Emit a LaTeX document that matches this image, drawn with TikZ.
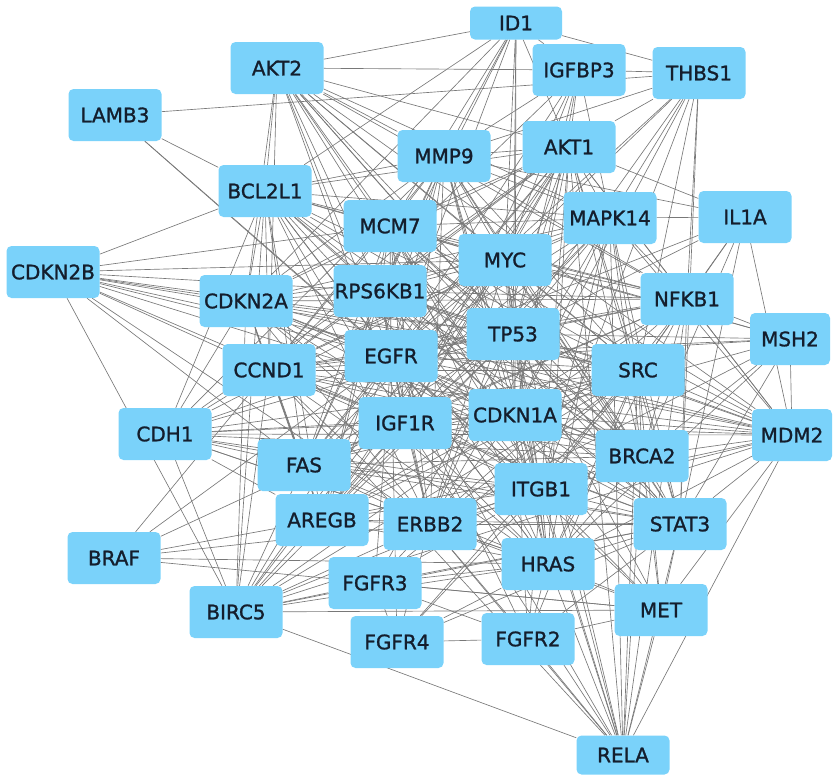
\documentclass[tikz,border=0pt]{standalone}
\usepackage{fontspec}
\newfontfamily\labfont[FakeBold=1.2]{DejaVu Sans}
\usetikzlibrary{backgrounds}
\definecolor{nodeblue}{RGB}{122,210,250}
\definecolor{edgegray}{RGB}{120,120,120}
\definecolor{labtext}{RGB}{20,30,45}
\begin{document}
\begin{tikzpicture}[x=1pt,y=-1pt,
  gene/.style={fill=nodeblue, rounded corners=5pt, minimum width=93pt, minimum height=52pt,
    inner sep=0pt, font=\labfont\fontsize{20}{20}\selectfont, text=labtext},
  link/.style={draw=edgegray, line width=0.65pt}]
\useasboundingbox (0,0) rectangle (839,782);
% nodes
\node[gene, minimum width=92pt, minimum height=33pt] (ID1) at (516,23) {ID1};
\node[gene] (IGFBP3) at (579,70) {IGFBP3};
\node[gene] (THBS1) at (699,73) {THBS1};
\node[gene] (AKT2) at (277,68) {AKT2};
\node[gene] (LAMB3) at (115,115) {LAMB3};
\node[gene] (AKT1) at (569,147) {AKT1};
\node[gene] (MMP9) at (444,156) {MMP9};
\node[gene] (BCL2L1) at (265,191) {BCL2L1};
\node[gene] (MCM7) at (390,226) {MCM7};
\node[gene] (MAPK14) at (610,218) {MAPK14};
\node[gene] (IL1A) at (745,217) {IL1A};
\node[gene] (MYC) at (505,260) {MYC};
\node[gene] (CDKN2B) at (53,272) {CDKN2B};
\node[gene] (RPS6KB1) at (380,291) {RPS6KB1};
\node[gene] (CDKN2A) at (246,301) {CDKN2A};
\node[gene] (NFKB1) at (687,299) {NFKB1};
\node[gene] (TP53) at (513,334) {TP53};
\node[gene, minimum width=80pt] (MSH2) at (790,339) {MSH2};
\node[gene] (EGFR) at (391,356) {EGFR};
\node[gene] (CCND1) at (269,370) {CCND1};
\node[gene] (SRC) at (638,370) {SRC};
\node[gene] (IGF1R) at (405,423) {IGF1R};
\node[gene] (CDKN1A) at (515,415) {CDKN1A};
\node[gene] (CDH1) at (165,434) {CDH1};
\node[gene, minimum width=80pt] (MDM2) at (792,435) {MDM2};
\node[gene] (BRCA2) at (642,456) {BRCA2};
\node[gene] (FAS) at (304,465) {FAS};
\node[gene] (ITGB1) at (541,489) {ITGB1};
\node[gene] (AREGB) at (322,520) {AREGB};
\node[gene] (ERBB2) at (430,524) {ERBB2};
\node[gene] (STAT3) at (680,524) {STAT3};
\node[gene] (BRAF) at (114,558) {BRAF};
\node[gene] (HRAS) at (548,564) {HRAS};
\node[gene] (FGFR3) at (375,583) {FGFR3};
\node[gene] (BIRC5) at (236,612) {BIRC5};
\node[gene] (MET) at (661,610) {MET};
\node[gene] (FGFR2) at (528,639) {FGFR2};
\node[gene] (FGFR4) at (397,642) {FGFR4};
\node[gene, minimum height=39pt] (RELA) at (623,755) {RELA};
% edges
\def\cliquelist{MMP9,AKT1,MCM7,MYC,MAPK14,RPS6KB1,CDKN2A,EGFR,TP53,CCND1,IGF1R,CDKN1A,SRC,BRCA2,FAS,ITGB1,ERBB2,HRAS,STAT3,NFKB1,BCL2L1,AREGB}
\begin{scope}[on background layer]
\foreach \a [count=\i] in \cliquelist {
  \foreach \b [count=\j] in \cliquelist {
    \ifnum\j>\i \draw[link] (\a) -- (\b); \fi
  }
}
\foreach \a/\b in {ID1/THBS1, ID1/IGFBP3, ID1/AKT1, ID1/MYC, ID1/TP53, ID1/MMP9, ID1/MCM7, ID1/CDKN1A, ID1/BCL2L1, ID1/CDKN2A, ID1/RPS6KB1, ID1/AKT2, ID1/EGFR,
 IGFBP3/THBS1, IGFBP3/AKT1, IGFBP3/TP53, IGFBP3/IGF1R, IGFBP3/MYC, IGFBP3/EGFR, IGFBP3/MMP9, IGFBP3/AKT2, IGFBP3/CDKN1A, IGFBP3/MAPK14, IGFBP3/CCND1,
 THBS1/LAMB3, THBS1/AKT1, THBS1/MMP9, THBS1/MYC, THBS1/TP53, THBS1/NFKB1, THBS1/SRC, THBS1/MAPK14, THBS1/ITGB1, THBS1/STAT3, THBS1/EGFR, THBS1/CDKN1A,
 AKT2/MMP9, AKT2/AKT1, AKT2/MCM7, AKT2/MYC, AKT2/TP53, AKT2/MAPK14, AKT2/NFKB1, AKT2/BCL2L1, AKT2/CDKN2A, AKT2/CCND1, AKT2/EGFR, AKT2/RPS6KB1, AKT2/SRC, AKT2/CDKN1A, AKT2/MDM2, AKT2/IGF1R, AKT2/ITGB1, AKT2/BRCA2, AKT2/STAT3,
 LAMB3/BCL2L1, LAMB3/ITGB1, LAMB3/EGFR,
 CDKN2B/BCL2L1, CDKN2B/CDKN2A, CDKN2B/RPS6KB1, CDKN2B/CCND1, CDKN2B/EGFR, CDKN2B/TP53, CDKN2B/CDKN1A, CDKN2B/MYC, CDKN2B/MDM2, CDKN2B/BIRC5, CDKN2B/ERBB2, CDKN2B/MCM7, CDKN2B/IGF1R, CDKN2B/SRC, CDKN2B/FAS,
 CDH1/CDKN2A, CDH1/CCND1, CDH1/EGFR, CDH1/IGF1R, CDH1/TP53, CDH1/CDKN1A, CDH1/FAS, CDH1/BCL2L1, CDH1/SRC, CDH1/MMP9, CDH1/ITGB1, CDH1/BRCA2, CDH1/ERBB2, CDH1/AKT1, CDH1/MYC, CDH1/MDM2, CDH1/HRAS, CDH1/STAT3, CDH1/BIRC5, CDH1/AREGB,
 BRAF/HRAS, BRAF/ERBB2, BRAF/EGFR, BRAF/IGF1R, BRAF/CCND1, BRAF/MET, BRAF/AREGB,
 BIRC5/RELA, BIRC5/MET, BIRC5/HRAS, BIRC5/STAT3, BIRC5/TP53, BIRC5/CDKN1A, BIRC5/EGFR, BIRC5/CCND1, BIRC5/CDKN2A, BIRC5/BCL2L1, BIRC5/MYC, BIRC5/AKT1, BIRC5/MDM2, BIRC5/ERBB2, BIRC5/SRC, BIRC5/ITGB1, BIRC5/FAS, BIRC5/IGF1R, BIRC5/FGFR3,
 FGFR4/FGFR3, FGFR4/FGFR2, FGFR4/HRAS, FGFR4/STAT3, FGFR4/SRC, FGFR4/ERBB2, FGFR4/EGFR, FGFR4/ITGB1,
 FGFR3/FGFR2, FGFR3/HRAS, FGFR3/STAT3, FGFR3/EGFR, FGFR3/ERBB2, FGFR3/SRC, FGFR3/MET, FGFR3/TP53, FGFR3/ITGB1,
 FGFR2/HRAS, FGFR2/MET, FGFR2/STAT3, FGFR2/SRC, FGFR2/ERBB2, FGFR2/EGFR, FGFR2/RELA, FGFR2/ITGB1, FGFR2/CDKN1A,
 RELA/HRAS, RELA/ITGB1, RELA/CDKN1A, RELA/TP53, RELA/BRCA2, RELA/STAT3, RELA/MET, RELA/MDM2, RELA/NFKB1, RELA/SRC, RELA/MYC, RELA/AKT1, RELA/ERBB2, RELA/EGFR, RELA/IGF1R, RELA/MAPK14, RELA/CCND1,
 MET/HRAS, MET/STAT3, MET/SRC, MET/MDM2, MET/EGFR, MET/ERBB2, MET/ITGB1, MET/TP53, MET/CDKN1A, MET/BRCA2,
 MDM2/TP53, MDM2/CDKN1A, MDM2/SRC, MDM2/BRCA2, MDM2/NFKB1, MDM2/MYC, MDM2/AKT1, MDM2/MAPK14, MDM2/STAT3, MDM2/CCND1, MDM2/EGFR, MDM2/IGF1R, MDM2/ITGB1, MDM2/HRAS, MDM2/CDKN2A, MDM2/RPS6KB1, MDM2/ERBB2, MDM2/MSH2, MDM2/IL1A, MDM2/MCM7,
 MSH2/TP53, MSH2/BRCA2, MSH2/MYC, MSH2/CDKN1A, MSH2/EGFR, MSH2/CCND1, MSH2/MCM7, MSH2/ERBB2, MSH2/HRAS, MSH2/NFKB1, MSH2/STAT3,
 IL1A/AKT1, IL1A/MAPK14, IL1A/NFKB1, IL1A/SRC, IL1A/TP53, IL1A/MMP9, IL1A/STAT3, IL1A/EGFR, IL1A/BRCA2}
  \draw[link] (\a) -- (\b);
\end{scope}
\end{tikzpicture}
\end{document}
